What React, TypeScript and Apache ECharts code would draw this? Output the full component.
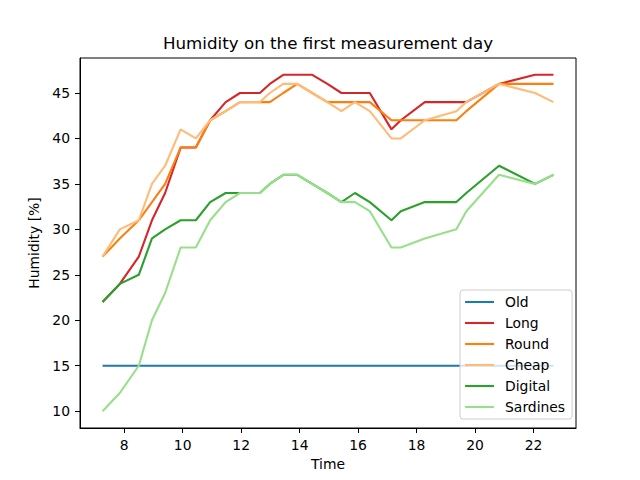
import React, { useEffect, useRef } from "react";
import * as echarts from "echarts";

const times = [7.26, 7.85, 8.5, 8.95, 9.4, 9.93, 10.45, 10.94, 11.47, 11.96, 12.64, 12.98, 13.44, 13.92, 14.43, 14.95, 15.43, 15.89, 16.4, 17.14, 17.46, 18.28, 19.36, 19.7, 20.82, 22.05, 22.68];
const oldVals = [15, 15, 15, 15, 15, 15, 15, 15, 15, 15, 15, 15, 15, 15, 15, 15, 15, 15, 15, 15, 15, 15, 15, 15, 15, 15, 15];
const longVals = [22, 24, 27, 31, 34, 39, 39, 42, 44, 45, 45, 46, 47, 47, 47, 46, 45, 45, 45, 41, 42, 44, 44, 44, 46, 47, 47];
const roundVals = [27, 29, 31, 33, 35, 39, 39, 42, 43, 44, 44, 44, 45, 46, 45, 44, 44, 44, 44, 42, 42, 42, 42, 43, 46, 46, 46];
const cheapVals = [27, 30, 31, 35, 37, 41, 40, 42, 43, 44, 44, 45, 46, 46, 45, 44, 43, 44, 43, 40, 40, 42, 43, 44, 46, 45, 44];
const digitalVals = [22, 24, 25, 29, 30, 31, 31, 33, 34, 34, 34, 35, 36, 36, 35, 34, 33, 34, 33, 31, 32, 33, 33, 34, 37, 35, 36];
const sardinesVals = [10, 12, 15, 20, 23, 28, 28, 31, 33, 34, 34, 35, 36, 36, 35, 34, 33, 33, 32, 28, 28, 29, 30, 32, 36, 35, 36];

const seriesNames = ["Old", "Long", "Round", "Cheap", "Digital", "Sardines"];
const seriesValues = [oldVals, longVals, roundVals, cheapVals, digitalVals, sardinesVals];
const seriesColors = ["#1f77b4", "#d62728", "#ff7f0e", "#ffbb78", "#2ca02c", "#98df8a"];

const xTicks = [8, 10, 12, 14, 16, 18, 20, 22];
const yTicks = [10, 15, 20, 25, 30, 35, 40, 45];

const FONT = "DejaVu Sans";

export default function App() {
  const ref = useRef<HTMLDivElement>(null);
  useEffect(() => {
    if (!ref.current) return;
    const chart = echarts.init(ref.current, undefined, { renderer: "svg" });
    const xMin = 6.489, xMax = 23.451, yMin = 8.15, yMax = 48.85;
    chart.setOption({
      animation: false,
      backgroundColor: "#ffffff",
      title: {
        text: "Humidity on the first measurement day",
        left: 328,
        textAlign: "center",
        top: 34,
        padding: 0,
        textStyle: { fontFamily: FONT, fontSize: 16.7, fontWeight: "normal", color: "#000" },
      },
      grid: {
        left: 80,
        right: 64,
        top: 58,
        bottom: 52,
        show: true,
        borderColor: "#000",
        borderWidth: 1,
        backgroundColor: "transparent",
      },
      legend: {
        orient: "vertical",
        left: 460,
        top: 290,
        padding: [5, 7, 5, 4],
        itemWidth: 29,
        itemHeight: 14,
        itemGap: 7,
        backgroundColor: "rgba(255,255,255,0.8)",
        borderColor: "#cccccc",
        borderWidth: 1,
        borderRadius: 3,
        itemStyle: { opacity: 0 },
        lineStyle: { width: 2.1 },
        textStyle: { fontFamily: FONT, fontSize: 13.9, color: "#000", lineHeight: 14, padding: [0, 0, 0, 6] },
        data: seriesNames,
      },
      xAxis: {
        type: "value",
        min: xMin,
        max: xMax,
        name: "Time",
        nameLocation: "middle",
        nameGap: 28,
        nameTextStyle: { fontFamily: FONT, fontSize: 13.9, color: "#000" },
        axisLine: { show: true, lineStyle: { color: "#000", width: 1 } },
        axisTick: { show: true, length: 5, inside: false, customValues: xTicks, lineStyle: { color: "#000", width: 1 } },
        axisLabel: { customValues: xTicks, margin: 10, fontFamily: FONT, fontSize: 13.9, color: "#000" },
        splitLine: { show: false },
      },
      yAxis: {
        type: "value",
        min: yMin,
        max: yMax,
        name: "Humidity [%]",
        nameLocation: "middle",
        nameGap: 33,
        nameTextStyle: { fontFamily: FONT, fontSize: 13.9, color: "#000" },
        axisLine: { show: true, lineStyle: { color: "#000", width: 1 } },
        axisTick: { show: true, length: 5, inside: false, customValues: yTicks, lineStyle: { color: "#000", width: 1 } },
        axisLabel: { customValues: yTicks, margin: 10, fontFamily: FONT, fontSize: 13.9, color: "#000" },
        splitLine: { show: false },
      },
      series: seriesNames.map((name, i) => ({
        name,
        type: "line",
        data: times.map((t, j) => [t, seriesValues[i][j]]),
        symbol: "none",
        showSymbol: false,
        color: seriesColors[i],
        lineStyle: { color: seriesColors[i], width: 2.1 },
        emphasis: { disabled: true },
      })),
    });
    return () => chart.dispose();
  }, []);
  return <div ref={ref} style={{ position: "absolute", left: 0, top: 0, width: 640, height: 480 }} />;
}
